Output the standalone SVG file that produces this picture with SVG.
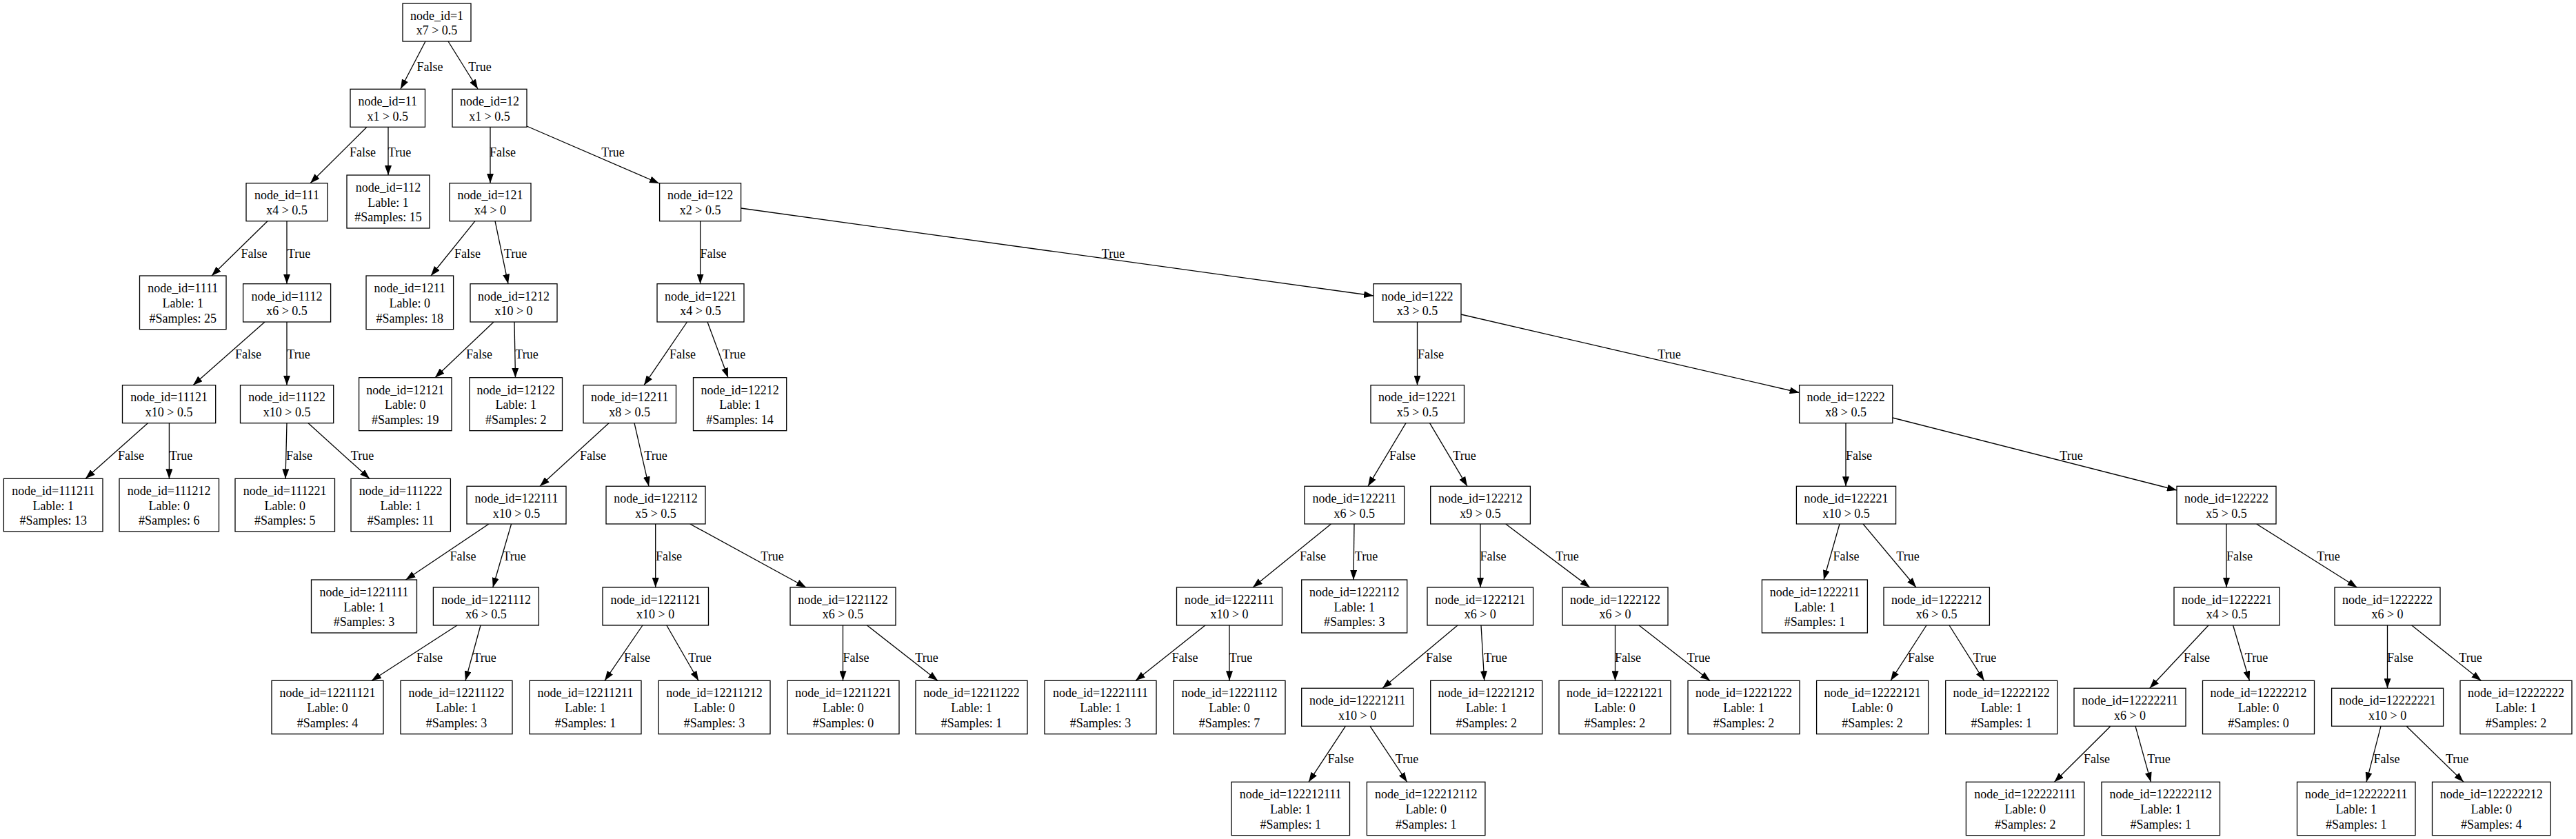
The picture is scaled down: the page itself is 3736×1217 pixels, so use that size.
<svg xmlns="http://www.w3.org/2000/svg" width="3736" height="1217" viewBox="0 0 3736 1217">
<style>
.node rect{fill:#fff;stroke:#000;stroke-width:1.3}
text{font-family:"Liberation Serif","Times New Roman",serif;font-size:18px;text-anchor:middle;fill:#000}
.edges path{stroke:#000;stroke-width:1.3;fill:none;marker-end:url(#arr)}
</style>
<defs>
<marker id="arr" markerUnits="userSpaceOnUse" markerWidth="14" markerHeight="10" refX="14" refY="5" orient="auto" viewBox="0 0 14 10"><path d="M0,0 L14,5 L0,10 z" fill="#000"/></marker>
</defs>
<rect width="3736" height="1217" fill="#fff"/>
<g id="connectors" class="edges">
<path d="M617,60 L581,129"/><text x="623.5" y="102.5">False</text>
<path d="M650,60 L693,129"/><text x="696" y="102.5">True</text>
<path d="M532,184.3 L450,265.7"/><text x="526" y="226.5">False</text>
<path d="M563,184.3 L563,254"/><text x="579.5" y="226.5">True</text>
<path d="M711,184.3 L711,265.7"/><text x="729" y="226.5">False</text>
<path d="M764,183 L956,266"/><text x="889" y="226.5">True</text>
<path d="M388,320.7 L307,400"/><text x="368.5" y="373.5">False</text>
<path d="M416,320.7 L416,411.7"/><text x="433.5" y="373.5">True</text>
<path d="M689,320.7 L625,400"/><text x="678" y="373.5">False</text>
<path d="M718,320.7 L737,411.7"/><text x="747.5" y="373.5">True</text>
<path d="M1015.6,320.7 L1015.6,411.7"/><text x="1034.5" y="373.5">False</text>
<path d="M1074.6,302 L1992,429"/><text x="1614.5" y="373.5">True</text>
<path d="M384,467 L280,558.7"/><text x="360" y="519.5">False</text>
<path d="M416,467 L416,558.7"/><text x="433" y="519.5">True</text>
<path d="M716,467 L631,547.7"/><text x="695" y="519.5">False</text>
<path d="M746,467 L747.5,547.7"/><text x="764" y="519.5">True</text>
<path d="M996.5,467 L934,558.7"/><text x="990" y="519.5">False</text>
<path d="M1026,467 L1056,547.7"/><text x="1064.5" y="519.5">True</text>
<path d="M2055.5,467 L2055.5,558.7"/><text x="2075" y="519.5">False</text>
<path d="M2118.8,456 L2609.6,569.5"/><text x="2421" y="519.5">True</text>
<path d="M214.4,613.7 L124,694.3"/><text x="190" y="666.5">False</text>
<path d="M245.4,613.7 L245.4,694.3"/><text x="262.5" y="666.5">True</text>
<path d="M416,613.7 L414,694.3"/><text x="434" y="666.5">False</text>
<path d="M447,613.7 L536,694.3"/><text x="525.5" y="666.5">True</text>
<path d="M883,613.7 L783,705.3"/><text x="860" y="666.5">False</text>
<path d="M920,613.7 L941,705.3"/><text x="951" y="666.5">True</text>
<path d="M2039,613.7 L1984,705.3"/><text x="2034" y="666.5">False</text>
<path d="M2073.5,613.7 L2128,705.3"/><text x="2124" y="666.5">True</text>
<path d="M2677,613.7 L2677,705.3"/><text x="2696" y="666.5">False</text>
<path d="M2744.8,606 L3157,711"/><text x="3004" y="666.5">True</text>
<path d="M709,760 L588.5,841"/><text x="671.5" y="812.5">False</text>
<path d="M741.6,760 L714.8,852"/><text x="746" y="812.5">True</text>
<path d="M950.7,760 L950.7,852"/><text x="970" y="812.5">False</text>
<path d="M1000.7,760 L1169,852"/><text x="1120" y="812.5">True</text>
<path d="M1930.5,760 L1817,852"/><text x="1904" y="812.5">False</text>
<path d="M1964,760 L1963,841"/><text x="1981.5" y="812.5">True</text>
<path d="M2147,760 L2147,852"/><text x="2165.5" y="812.5">False</text>
<path d="M2183.7,760 L2305.8,852"/><text x="2273" y="812.5">True</text>
<path d="M2668,760 L2645,841"/><text x="2677.5" y="812.5">False</text>
<path d="M2702,760 L2779,852"/><text x="2767" y="812.5">True</text>
<path d="M3229,760 L3229,852"/><text x="3248" y="812.5">False</text>
<path d="M3272.6,760 L3418.5,852"/><text x="3377" y="812.5">True</text>
<path d="M663,907 L539,987.3"/><text x="623" y="959.5">False</text>
<path d="M697,907 L675,987.3"/><text x="703" y="959.5">True</text>
<path d="M932,907 L877,987.3"/><text x="924" y="959.5">False</text>
<path d="M966.8,907 L1013,987.3"/><text x="1015" y="959.5">True</text>
<path d="M1222.5,907 L1222.5,987.3"/><text x="1241.5" y="959.5">False</text>
<path d="M1257.4,907 L1360,987.3"/><text x="1344" y="959.5">True</text>
<path d="M1748,907 L1647,987.3"/><text x="1718.5" y="959.5">False</text>
<path d="M1783,907 L1783,987.3"/><text x="1799.5" y="959.5">True</text>
<path d="M2114,907 L2005,998.3"/><text x="2087" y="959.5">False</text>
<path d="M2148,907 L2152.7,987.3"/><text x="2169" y="959.5">True</text>
<path d="M2342.5,907 L2342.5,987.3"/><text x="2361" y="959.5">False</text>
<path d="M2377,907 L2480,987.3"/><text x="2463.5" y="959.5">True</text>
<path d="M2794,907 L2742,987.3"/><text x="2786" y="959.5">False</text>
<path d="M2827,907 L2877.6,987.3"/><text x="2878.5" y="959.5">True</text>
<path d="M3203,907 L3117.7,998.3"/><text x="3186" y="959.5">False</text>
<path d="M3238.6,907 L3262.4,987.3"/><text x="3272.5" y="959.5">True</text>
<path d="M3462.5,907 L3462.5,998.3"/><text x="3481" y="959.5">False</text>
<path d="M3497.7,907 L3598.4,987.3"/><text x="3583" y="959.5">True</text>
<path d="M1951.4,1053.3 L1898,1134.3"/><text x="1944.5" y="1106.5">False</text>
<path d="M1987,1053.3 L2040.7,1134.3"/><text x="2040.5" y="1106.5">True</text>
<path d="M3061,1053.3 L2979.5,1134.3"/><text x="3041" y="1106.5">False</text>
<path d="M3097,1053.3 L3119.5,1134.3"/><text x="3131" y="1106.5">True</text>
<path d="M3453,1053.3 L3432,1134.3"/><text x="3461.5" y="1106.5">False</text>
<path d="M3490,1053.3 L3573,1134.3"/><text x="3563.6" y="1106.5">True</text>
</g>
<g id="n1" class="node"><rect x="584" y="5" width="99" height="55"/><text x="633.5" y="28.7">node_id=1</text><text x="633.5" y="50.3">x7 &gt; 0.5</text></g>
<g id="n11" class="node"><rect x="508" y="129.3" width="108.5" height="55"/><text x="562.3" y="153">node_id=11</text><text x="562.3" y="174.6">x1 &gt; 0.5</text></g>
<g id="n12" class="node"><rect x="656" y="129.3" width="108" height="55"/><text x="710" y="153">node_id=12</text><text x="710" y="174.6">x1 &gt; 0.5</text></g>
<g id="n111" class="node"><rect x="357" y="265.7" width="118" height="55"/><text x="416" y="289.4">node_id=111</text><text x="416" y="311">x4 &gt; 0.5</text></g>
<g id="n112" class="node"><rect x="503" y="254" width="120" height="77"/><text x="563" y="277.9">node_id=112</text><text x="563" y="299.5">Lable: 1</text><text x="563" y="321.1">#Samples: 15</text></g>
<g id="n121" class="node"><rect x="652" y="265.7" width="118" height="55"/><text x="711" y="289.4">node_id=121</text><text x="711" y="311">x4 &gt; 0</text></g>
<g id="n122" class="node"><rect x="956.6" y="265.7" width="118" height="55"/><text x="1015.6" y="289.4">node_id=122</text><text x="1015.6" y="311">x2 &gt; 0.5</text></g>
<g id="n1111" class="node"><rect x="202.5" y="400" width="125.5" height="77.7"/><text x="265.3" y="424.3">node_id=1111</text><text x="265.3" y="445.9">Lable: 1</text><text x="265.3" y="467.5">#Samples: 25</text></g>
<g id="n1112" class="node"><rect x="352.6" y="411.7" width="127" height="55.3"/><text x="416" y="435.5">node_id=1112</text><text x="416" y="457.1">x6 &gt; 0.5</text></g>
<g id="n1211" class="node"><rect x="531" y="400" width="126.6" height="77.7"/><text x="594.3" y="424.3">node_id=1211</text><text x="594.3" y="445.9">Lable: 0</text><text x="594.3" y="467.5">#Samples: 18</text></g>
<g id="n1212" class="node"><rect x="682" y="411.7" width="126" height="55.3"/><text x="745" y="435.5">node_id=1212</text><text x="745" y="457.1">x10 &gt; 0</text></g>
<g id="n1221" class="node"><rect x="953" y="411.7" width="126" height="55.3"/><text x="1016" y="435.5">node_id=1221</text><text x="1016" y="457.1">x4 &gt; 0.5</text></g>
<g id="n1222" class="node"><rect x="1992" y="411.7" width="127" height="55.3"/><text x="2055.5" y="435.5">node_id=1222</text><text x="2055.5" y="457.1">x3 &gt; 0.5</text></g>
<g id="n11121" class="node"><rect x="177.5" y="558.7" width="135.2" height="55"/><text x="245.1" y="582.4">node_id=11121</text><text x="245.1" y="604">x10 &gt; 0.5</text></g>
<g id="n11122" class="node"><rect x="348.5" y="558.7" width="135.2" height="55"/><text x="416.1" y="582.4">node_id=11122</text><text x="416.1" y="604">x10 &gt; 0.5</text></g>
<g id="n12121" class="node"><rect x="520.6" y="547.7" width="134.4" height="77"/><text x="587.8" y="571.6">node_id=12121</text><text x="587.8" y="593.2">Lable: 0</text><text x="587.8" y="614.8">#Samples: 19</text></g>
<g id="n12122" class="node"><rect x="681" y="547.7" width="134.5" height="77"/><text x="748.2" y="571.6">node_id=12122</text><text x="748.2" y="593.2">Lable: 1</text><text x="748.2" y="614.8">#Samples: 2</text></g>
<g id="n12211" class="node"><rect x="846" y="558.7" width="134.5" height="55"/><text x="913.2" y="582.4">node_id=12211</text><text x="913.2" y="604">x8 &gt; 0.5</text></g>
<g id="n12212" class="node"><rect x="1005.5" y="547.7" width="135.2" height="77"/><text x="1073.1" y="571.6">node_id=12212</text><text x="1073.1" y="593.2">Lable: 1</text><text x="1073.1" y="614.8">#Samples: 14</text></g>
<g id="n12221" class="node"><rect x="1988" y="558.7" width="135.5" height="55"/><text x="2055.7" y="582.4">node_id=12221</text><text x="2055.7" y="604">x5 &gt; 0.5</text></g>
<g id="n12222" class="node"><rect x="2609.6" y="558.7" width="135.2" height="55"/><text x="2677.2" y="582.4">node_id=12222</text><text x="2677.2" y="604">x8 &gt; 0.5</text></g>
<g id="n111211" class="node"><rect x="5.4" y="694.3" width="143.6" height="76.7"/><text x="77.2" y="718.1">node_id=111211</text><text x="77.2" y="739.7">Lable: 1</text><text x="77.2" y="761.3">#Samples: 13</text></g>
<g id="n111212" class="node"><rect x="173" y="694.3" width="144.5" height="76.7"/><text x="245.2" y="718.1">node_id=111212</text><text x="245.2" y="739.7">Lable: 0</text><text x="245.2" y="761.3">#Samples: 6</text></g>
<g id="n111221" class="node"><rect x="341" y="694.3" width="144.5" height="76.7"/><text x="413.2" y="718.1">node_id=111221</text><text x="413.2" y="739.7">Lable: 0</text><text x="413.2" y="761.3">#Samples: 5</text></g>
<g id="n111222" class="node"><rect x="509" y="694.3" width="144.4" height="76.7"/><text x="581.2" y="718.1">node_id=111222</text><text x="581.2" y="739.7">Lable: 1</text><text x="581.2" y="761.3">#Samples: 11</text></g>
<g id="n122111" class="node"><rect x="677" y="705.3" width="144" height="54.7"/><text x="749" y="728.9">node_id=122111</text><text x="749" y="750.5">x10 &gt; 0.5</text></g>
<g id="n122112" class="node"><rect x="879" y="705.3" width="144" height="54.7"/><text x="951" y="728.9">node_id=122112</text><text x="951" y="750.5">x5 &gt; 0.5</text></g>
<g id="n122211" class="node"><rect x="1892" y="705.3" width="144.6" height="54.7"/><text x="1964.3" y="728.9">node_id=122211</text><text x="1964.3" y="750.5">x6 &gt; 0.5</text></g>
<g id="n122212" class="node"><rect x="2074.7" y="705.3" width="144.7" height="54.7"/><text x="2147" y="728.9">node_id=122212</text><text x="2147" y="750.5">x9 &gt; 0.5</text></g>
<g id="n122221" class="node"><rect x="2605.4" y="705.3" width="144.2" height="54.7"/><text x="2677.5" y="728.9">node_id=122221</text><text x="2677.5" y="750.5">x10 &gt; 0.5</text></g>
<g id="n122222" class="node"><rect x="3157" y="705.3" width="144" height="54.7"/><text x="3229" y="728.9">node_id=122222</text><text x="3229" y="750.5">x5 &gt; 0.5</text></g>
<g id="n1221111" class="node"><rect x="451.5" y="841" width="153" height="77"/><text x="528" y="864.9">node_id=1221111</text><text x="528" y="886.5">Lable: 1</text><text x="528" y="908.1">#Samples: 3</text></g>
<g id="n1221112" class="node"><rect x="628.4" y="852" width="153" height="55"/><text x="705" y="875.7">node_id=1221112</text><text x="705" y="897.3">x6 &gt; 0.5</text></g>
<g id="n1221121" class="node"><rect x="874" y="852" width="153.5" height="55"/><text x="950.7" y="875.7">node_id=1221121</text><text x="950.7" y="897.3">x10 &gt; 0</text></g>
<g id="n1221122" class="node"><rect x="1146" y="852" width="153" height="55"/><text x="1222.5" y="875.7">node_id=1221122</text><text x="1222.5" y="897.3">x6 &gt; 0.5</text></g>
<g id="n1222111" class="node"><rect x="1706.5" y="852" width="153" height="55"/><text x="1783" y="875.7">node_id=1222111</text><text x="1783" y="897.3">x10 &gt; 0</text></g>
<g id="n1222112" class="node"><rect x="1887.7" y="841" width="153" height="77"/><text x="1964.2" y="864.9">node_id=1222112</text><text x="1964.2" y="886.5">Lable: 1</text><text x="1964.2" y="908.1">#Samples: 3</text></g>
<g id="n1222121" class="node"><rect x="2070" y="852" width="153.6" height="55"/><text x="2146.8" y="875.7">node_id=1222121</text><text x="2146.8" y="897.3">x6 &gt; 0</text></g>
<g id="n1222122" class="node"><rect x="2266" y="852" width="153" height="55"/><text x="2342.5" y="875.7">node_id=1222122</text><text x="2342.5" y="897.3">x6 &gt; 0</text></g>
<g id="n1222211" class="node"><rect x="2555.4" y="841" width="153" height="77"/><text x="2632" y="864.9">node_id=1222211</text><text x="2632" y="886.5">Lable: 1</text><text x="2632" y="908.1">#Samples: 1</text></g>
<g id="n1222212" class="node"><rect x="2732" y="852" width="153.4" height="55"/><text x="2808.7" y="875.7">node_id=1222212</text><text x="2808.7" y="897.3">x6 &gt; 0.5</text></g>
<g id="n1222221" class="node"><rect x="3153" y="852" width="153" height="55"/><text x="3229.5" y="875.7">node_id=1222221</text><text x="3229.5" y="897.3">x4 &gt; 0.5</text></g>
<g id="n1222222" class="node"><rect x="3386" y="852" width="153" height="55"/><text x="3462.5" y="875.7">node_id=1222222</text><text x="3462.5" y="897.3">x6 &gt; 0</text></g>
<g id="n12211121" class="node"><rect x="394" y="987.3" width="162" height="77.4"/><text x="475" y="1011.4">node_id=12211121</text><text x="475" y="1033">Lable: 0</text><text x="475" y="1054.6">#Samples: 4</text></g>
<g id="n12211122" class="node"><rect x="581" y="987.3" width="162" height="77.4"/><text x="662" y="1011.4">node_id=12211122</text><text x="662" y="1033">Lable: 1</text><text x="662" y="1054.6">#Samples: 3</text></g>
<g id="n12211211" class="node"><rect x="768" y="987.3" width="162" height="77.4"/><text x="849" y="1011.4">node_id=12211211</text><text x="849" y="1033">Lable: 1</text><text x="849" y="1054.6">#Samples: 1</text></g>
<g id="n12211212" class="node"><rect x="955" y="987.3" width="162" height="77.4"/><text x="1036" y="1011.4">node_id=12211212</text><text x="1036" y="1033">Lable: 0</text><text x="1036" y="1054.6">#Samples: 3</text></g>
<g id="n12211221" class="node"><rect x="1142" y="987.3" width="162" height="77.4"/><text x="1223" y="1011.4">node_id=12211221</text><text x="1223" y="1033">Lable: 0</text><text x="1223" y="1054.6">#Samples: 0</text></g>
<g id="n12211222" class="node"><rect x="1328" y="987.3" width="162" height="77.4"/><text x="1409" y="1011.4">node_id=12211222</text><text x="1409" y="1033">Lable: 1</text><text x="1409" y="1054.6">#Samples: 1</text></g>
<g id="n12221111" class="node"><rect x="1515" y="987.3" width="162" height="77.4"/><text x="1596" y="1011.4">node_id=12221111</text><text x="1596" y="1033">Lable: 1</text><text x="1596" y="1054.6">#Samples: 3</text></g>
<g id="n12221112" class="node"><rect x="1702" y="987.3" width="162" height="77.4"/><text x="1783" y="1011.4">node_id=12221112</text><text x="1783" y="1033">Lable: 0</text><text x="1783" y="1054.6">#Samples: 7</text></g>
<g id="n12221211" class="node"><rect x="1887.7" y="998.3" width="162" height="55"/><text x="1968.7" y="1022">node_id=12221211</text><text x="1968.7" y="1043.6">x10 &gt; 0</text></g>
<g id="n12221212" class="node"><rect x="2074.7" y="987.3" width="162" height="77.4"/><text x="2155.7" y="1011.4">node_id=12221212</text><text x="2155.7" y="1033">Lable: 1</text><text x="2155.7" y="1054.6">#Samples: 2</text></g>
<g id="n12221221" class="node"><rect x="2261" y="987.3" width="162" height="77.4"/><text x="2342" y="1011.4">node_id=12221221</text><text x="2342" y="1033">Lable: 0</text><text x="2342" y="1054.6">#Samples: 2</text></g>
<g id="n12221222" class="node"><rect x="2448" y="987.3" width="162" height="77.4"/><text x="2529" y="1011.4">node_id=12221222</text><text x="2529" y="1033">Lable: 1</text><text x="2529" y="1054.6">#Samples: 2</text></g>
<g id="n12222121" class="node"><rect x="2634.6" y="987.3" width="162" height="77.4"/><text x="2715.6" y="1011.4">node_id=12222121</text><text x="2715.6" y="1033">Lable: 0</text><text x="2715.6" y="1054.6">#Samples: 2</text></g>
<g id="n12222122" class="node"><rect x="2821.7" y="987.3" width="162" height="77.4"/><text x="2902.7" y="1011.4">node_id=12222122</text><text x="2902.7" y="1033">Lable: 1</text><text x="2902.7" y="1054.6">#Samples: 1</text></g>
<g id="n12222211" class="node"><rect x="3008" y="998.3" width="162" height="55"/><text x="3089" y="1022">node_id=12222211</text><text x="3089" y="1043.6">x6 &gt; 0</text></g>
<g id="n12222212" class="node"><rect x="3194.5" y="987.3" width="162" height="77.4"/><text x="3275.5" y="1011.4">node_id=12222212</text><text x="3275.5" y="1033">Lable: 0</text><text x="3275.5" y="1054.6">#Samples: 0</text></g>
<g id="n12222221" class="node"><rect x="3381.6" y="998.3" width="162" height="55"/><text x="3462.6" y="1022">node_id=12222221</text><text x="3462.6" y="1043.6">x10 &gt; 0</text></g>
<g id="n12222222" class="node"><rect x="3568" y="987.3" width="162" height="77.4"/><text x="3649" y="1011.4">node_id=12222222</text><text x="3649" y="1033">Lable: 1</text><text x="3649" y="1054.6">#Samples: 2</text></g>
<g id="n122212111" class="node"><rect x="1786" y="1134.3" width="171.5" height="77.4"/><text x="1871.7" y="1158.4">node_id=122212111</text><text x="1871.7" y="1180">Lable: 1</text><text x="1871.7" y="1201.6">#Samples: 1</text></g>
<g id="n122212112" class="node"><rect x="1982.4" y="1134.3" width="171.5" height="77.4"/><text x="2068.2" y="1158.4">node_id=122212112</text><text x="2068.2" y="1180">Lable: 0</text><text x="2068.2" y="1201.6">#Samples: 1</text></g>
<g id="n122222111" class="node"><rect x="2851.4" y="1134.3" width="171.5" height="77.4"/><text x="2937.2" y="1158.4">node_id=122222111</text><text x="2937.2" y="1180">Lable: 0</text><text x="2937.2" y="1201.6">#Samples: 2</text></g>
<g id="n122222112" class="node"><rect x="3048" y="1134.3" width="171.5" height="77.4"/><text x="3133.8" y="1158.4">node_id=122222112</text><text x="3133.8" y="1180">Lable: 1</text><text x="3133.8" y="1201.6">#Samples: 1</text></g>
<g id="n122222211" class="node"><rect x="3331.5" y="1134.3" width="171.5" height="77.4"/><text x="3417.3" y="1158.4">node_id=122222211</text><text x="3417.3" y="1180">Lable: 1</text><text x="3417.3" y="1201.6">#Samples: 1</text></g>
<g id="n122222212" class="node"><rect x="3527.5" y="1134.3" width="171.5" height="77.4"/><text x="3613.3" y="1158.4">node_id=122222212</text><text x="3613.3" y="1180">Lable: 0</text><text x="3613.3" y="1201.6">#Samples: 4</text></g>
</svg>
